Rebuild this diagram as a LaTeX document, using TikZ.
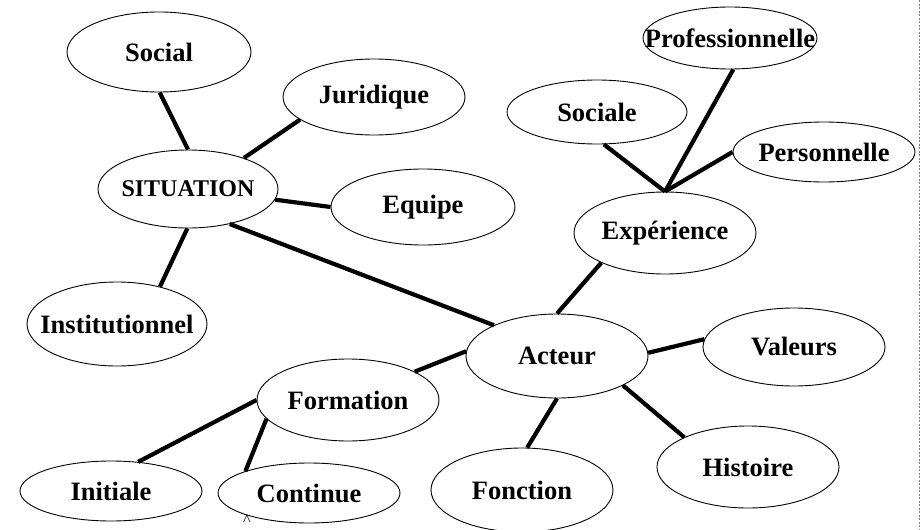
\documentclass[tikz,border=0pt]{standalone}
\usepackage{fontspec}
\setmainfont{Liberation Serif}
\usetikzlibrary{shapes.geometric}
\newcommand{\mot}[1]{\makebox[0pt]{#1}}

\begin{document}
\begin{tikzpicture}[x=1pt,y=-1pt,
    bulle/.style={ellipse,draw,line width=0.9pt,inner sep=0pt,
                  minimum width=182pt,minimum height=80pt,
                  font=\fontsize{26.5}{30}\selectfont\bfseries},
    lien/.style={line width=4.2pt}]

  \useasboundingbox (0,0) rectangle (922,530);

  % situation side
  \node[bulle,minimum width=184pt] (soc) at (159,52) {\mot{Social}};
  \node[bulle,minimum height=76pt] (jur) at (374,97) {\mot{Juridique}};
  \node[bulle,minimum width=180pt,minimum height=78pt,
        font=\fontsize{24}{28}\selectfont\bfseries] (sit) at (188,189) {\mot{SITUATION}};
  \node[bulle,minimum width=184pt,minimum height=76pt] (equ) at (423,207) {\mot{Equipe}};
  \node[bulle,minimum width=180pt,minimum height=84pt] (ins) at (117,324) {\mot{Institutionnel}};

  % experience side
  \node[bulle,minimum width=174pt,minimum height=62pt] (pro) at (730,38) {\mot{Professionnelle}};
  \node[bulle,minimum width=180pt,minimum height=64pt] (soe) at (597,112) {\mot{Sociale}};
  \node[bulle,minimum height=60pt] (per) at (824,152) {\mot{Personnelle}};
  \node[bulle,minimum height=82pt] (exp) at (665,233) {\mot{Expérience}};
  \coordinate (carrefour) at (exp.north);

  % acteur
  \node[bulle,minimum height=84pt] (act) at (557,356) {\mot{Acteur}};
  \node[bulle,minimum height=78pt] (val) at (794,347) {\mot{Valeurs}};
  \node[bulle,minimum height=82pt] (form) at (348,400) {\mot{Formation}};
  \node[bulle,minimum height=60pt] (ini) at (111,491) {\mot{Initiale}};
  \node[bulle,minimum height=60pt] (con) at (309,493) {\mot{Continue}};
  \node[bulle,minimum height=84pt] (fon) at (522,490) {\mot{Fonction}};
  \node[bulle,minimum height=82pt] (his) at (748,467) {\mot{Histoire}};

  \node[anchor=base,inner sep=0pt,font=\fontsize{16}{16}\selectfont] (chapeau) at (247,525) {\textasciicircum};

  \path[lien]
    (sit.90) edge (soc.-89)
    (sit.29) edge (jur.197)
    (sit.-7) edge (equ.180)
    (sit.269) edge (ins.41)
    (sit.-40) edge (act.154)
    (act.90) edge (exp.205)
    (carrefour) edge (soe.282)
    (carrefour) edge (pro.276)
    (carrefour) edge (per.180)
    (act.2) edge (val.175)
    (act.177) edge (form.23)
    (act.-24) edge (his.155)
    (act.270) edge (fon.83)
    (form.180) edge (ini.47)
    (form.193) edge (con.161);

  % page edge
  \draw[gray,line width=0.7pt,dash pattern=on 2pt off 1.5pt] (919,0) -- (919,530);

\end{tikzpicture}
\end{document}
